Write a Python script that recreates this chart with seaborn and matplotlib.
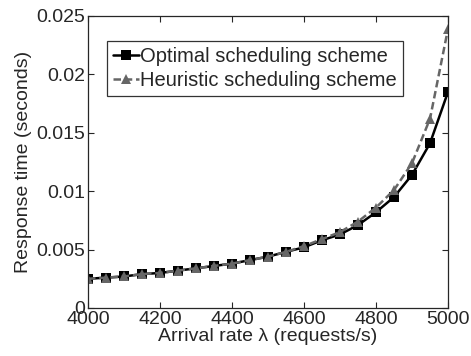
import pandas as pd
import seaborn as sns
import matplotlib.pyplot as plt

# --- data ---
rates = list(range(4000, 5001, 50))
optimal = [0.0025, 0.0026, 0.0027, 0.0029, 0.0030, 0.0032, 0.0034, 0.0036, 0.0038, 0.0041,
           0.0044, 0.0048, 0.0052, 0.0058, 0.0063, 0.0071, 0.0082, 0.0095, 0.0114, 0.0141, 0.0185]
heuristic = [0.0025, 0.0026, 0.0027, 0.0029, 0.0030, 0.0032, 0.0034, 0.0036, 0.0038, 0.0041,
             0.0044, 0.0048, 0.0053, 0.0059, 0.0065, 0.0074, 0.0086, 0.0101, 0.0124, 0.0162, 0.0239]
names = ['Optimal scheduling scheme', 'Heuristic scheduling scheme']

df = pd.concat([
    pd.DataFrame({'rate': rates, 'time': optimal, 'scheme': names[0]}),
    pd.DataFrame({'rate': rates, 'time': heuristic, 'scheme': names[1]}),
])

sns.set_style('ticks')
plt.rcParams['font.family'] = ['Liberation Sans', 'DejaVu Sans']
FS = 14

fig = plt.figure(figsize=(4.71, 3.56), dpi=100)
ax = fig.add_axes([88 / 471, 48 / 356, 360 / 471, 292 / 356])

sns.lineplot(data=df, x='rate', y='time', hue='scheme', style='scheme',
             palette={names[0]: 'black', names[1]: '#666666'},
             markers={names[0]: 's', names[1]: '^'},
             dashes={names[0]: '', names[1]: (3, 1.5)},
             markersize=7, linewidth=1.8, markeredgewidth=0, ax=ax)

ax.set_xlim(4000, 5000)
ax.set_ylim(0, 0.025)
ax.set_xticks([4000, 4200, 4400, 4600, 4800, 5000])
ax.set_yticks([0, 0.005, 0.01, 0.015, 0.02, 0.025])
ax.set_yticklabels(['0', '0.005', '0.01', '0.015', '0.02', '0.025'])
ax.tick_params(direction='in', top=True, right=True, labelsize=FS, length=4, width=0.8, pad=2)
for s in ax.spines.values():
    s.set_linewidth(0.9)
ax.set_xlabel('Arrival rate λ (requests/s)', fontsize=FS, labelpad=0)
ax.set_ylabel('Response time (seconds)', fontsize=FS, labelpad=3)

leg = ax.legend(loc='upper left', bbox_to_anchor=(0.053, 0.914), fontsize=14.5,
                frameon=True, fancybox=False, edgecolor='black', handlelength=1.3,
                handletextpad=0.05, borderpad=0.3, labelspacing=0.25, borderaxespad=0)
leg.get_frame().set_linewidth(0.9)

fig.savefig('out.png', dpi=100)
